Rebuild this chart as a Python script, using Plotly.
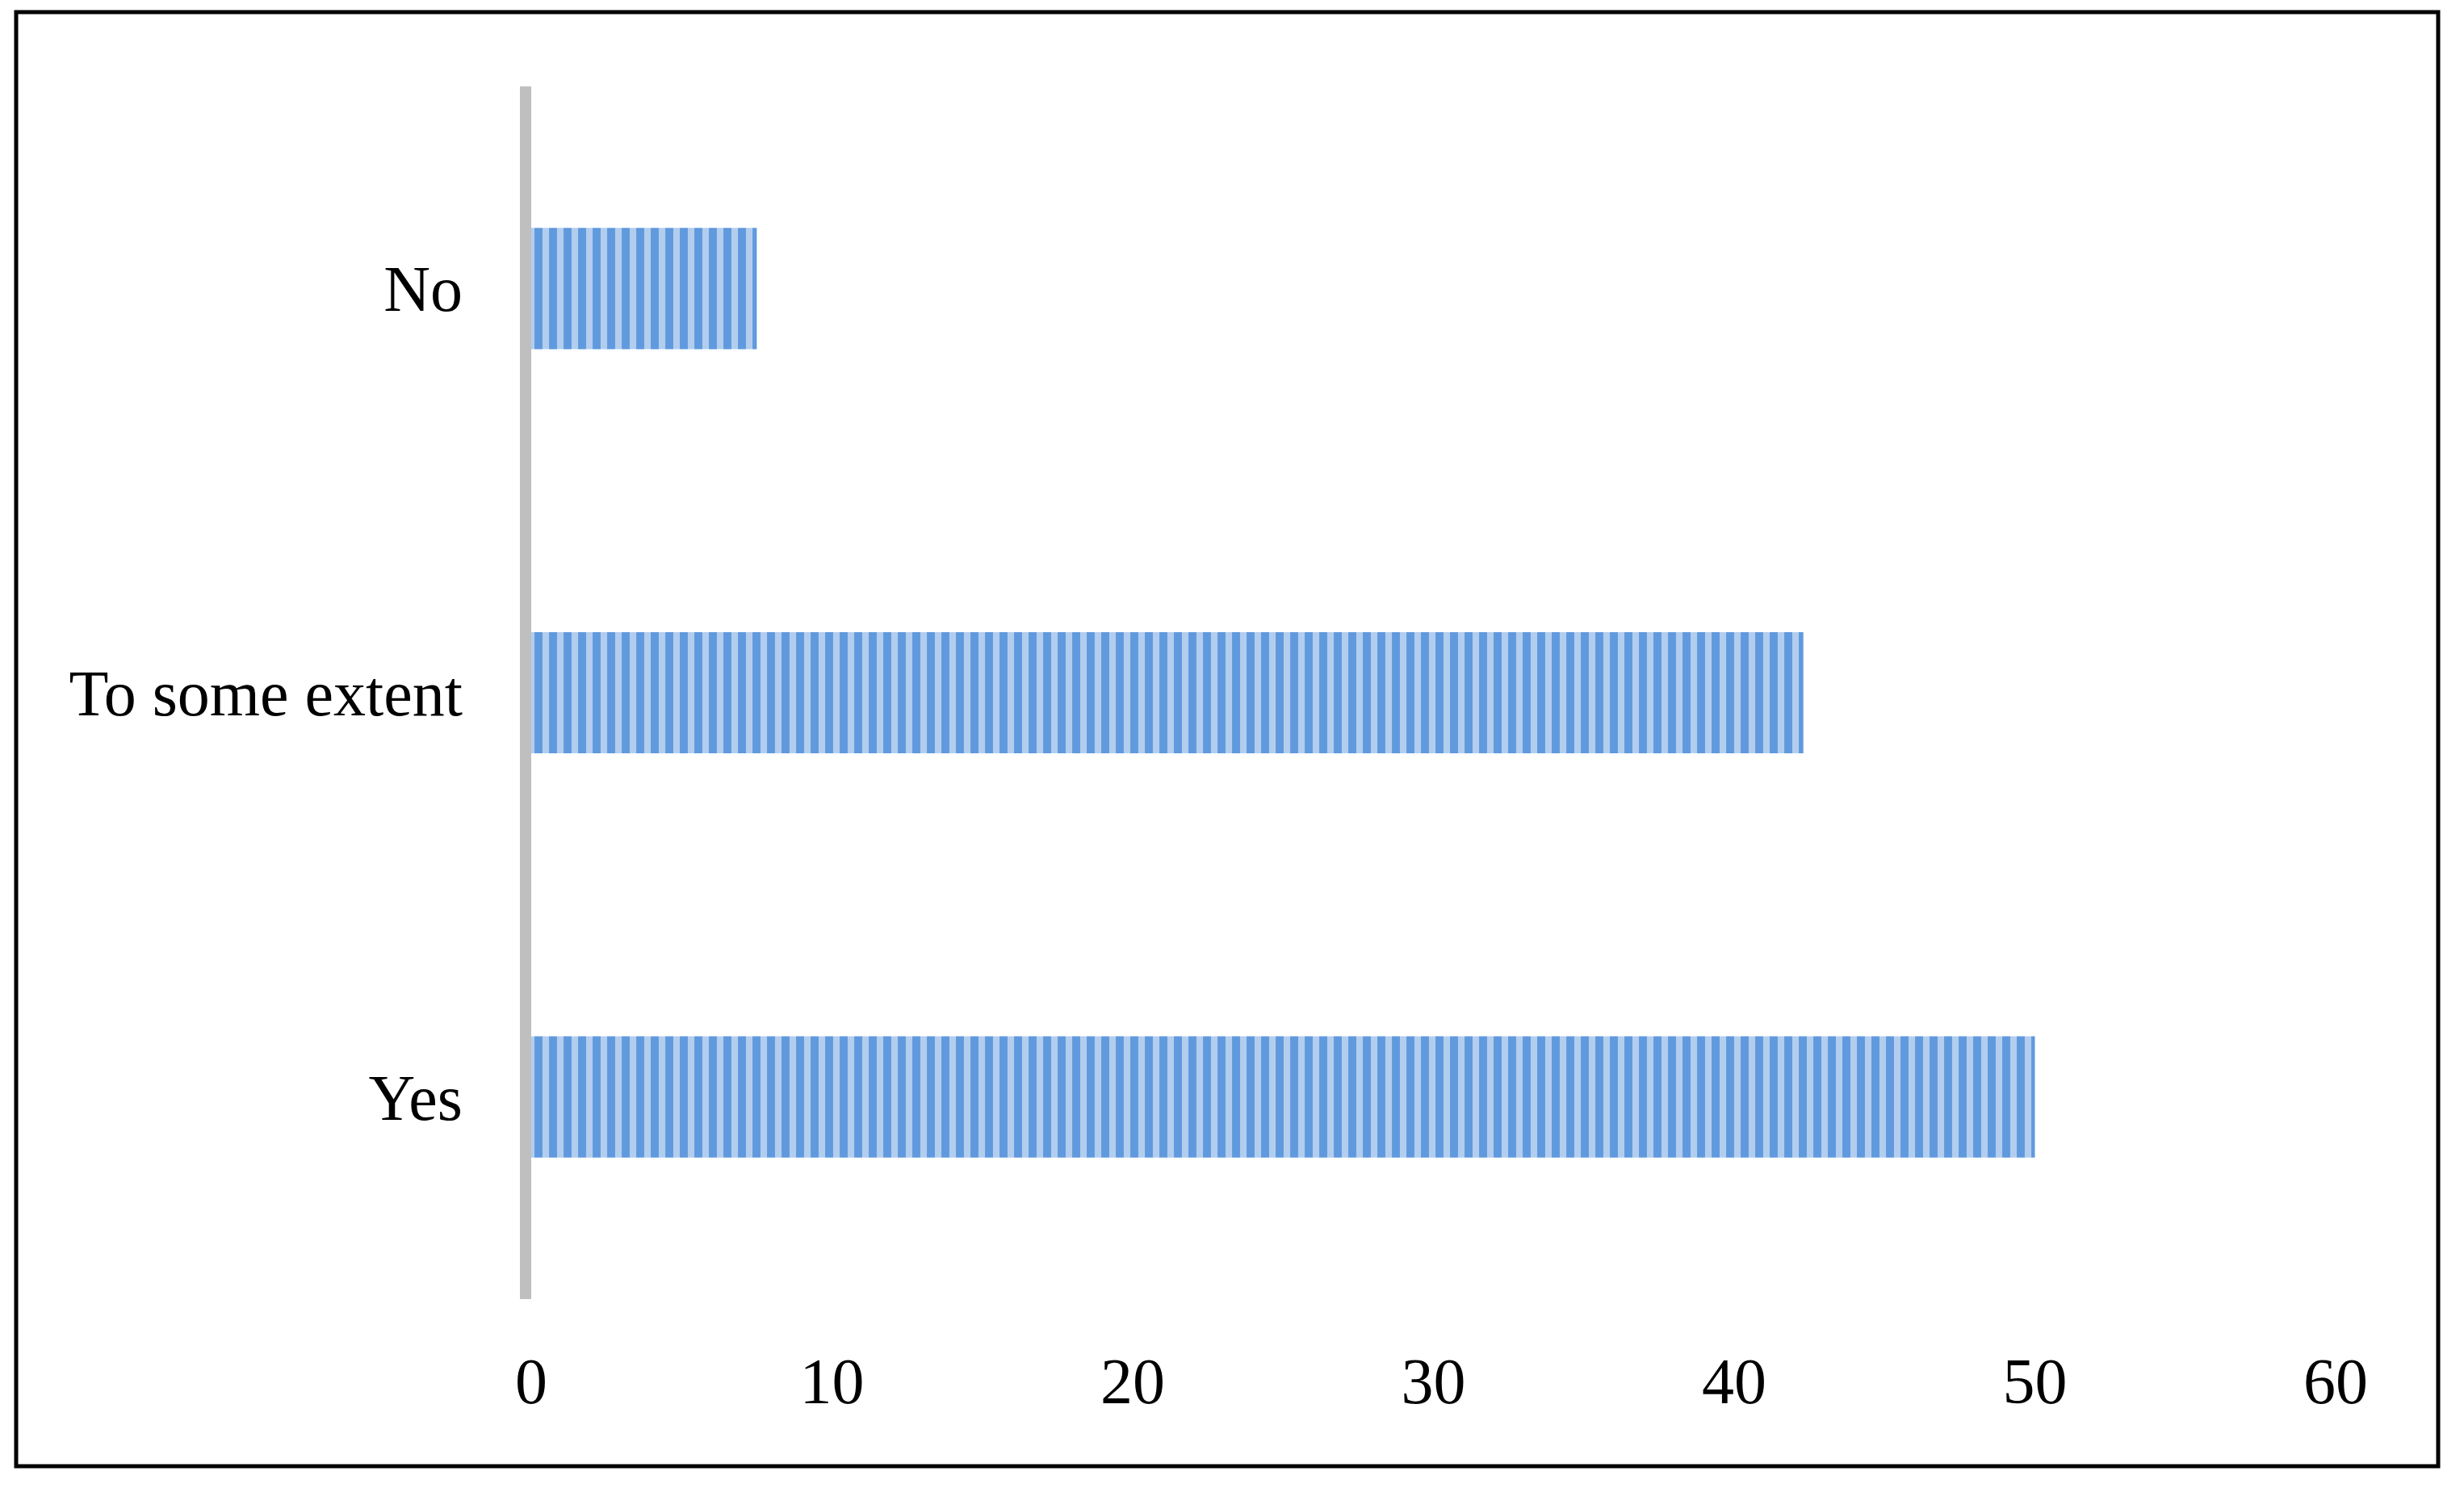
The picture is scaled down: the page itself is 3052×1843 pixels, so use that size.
import plotly.graph_objects as go

## Survey answers, bottom to top
answers = ["Yes", "To some extent", "No"]
percent = [50.0, 42.3, 7.5]

x_ticks = [0, 10, 20, 30, 40, 50, 60]

## page body has an 8px margin, so the figure is a bit smaller and shifted
W, H = 3052 - 16, 1843 - 16
ML, MR, MT, MB = 658 - 8, 159 - 8, 107 - 8, 234 - 8
pw = W - ML - MR
ph = H - MT - MB

fig = go.Figure(go.Bar(
    x=percent,
    y=answers,
    orientation="h",
    marker=dict(
        color="#b2cdee",
        line=dict(width=0),
        pattern=dict(shape="|", fgcolor="#0d66cc", bgcolor="#b2cdee",
                     size=18, solidity=0.55),
    ),
    hoverinfo="x+y",
))

## outer frame of the chart
fig.add_shape(type="rect", xref="paper", yref="paper",
              x0=(12 - ML) / pw, x1=(3012 - ML) / pw,
              y0=(H - MB - 1808) / ph, y1=(H - MB - 7) / ph,
              line=dict(color="black", width=5), fillcolor="rgba(0,0,0,0)")

fig.update_layout(
    width=W, height=H,
    margin=dict(l=ML, r=MR, t=MT, b=MB, pad=0),
    plot_bgcolor="white", paper_bgcolor="white",
    bargap=0.7,
    showlegend=False,
    font=dict(family="Liberation Serif", size=80, color="black"),
    xaxis=dict(range=[0, 60], tickvals=x_ticks, showgrid=False, zeroline=False,
               showline=False, ticks="", ticklabelstandoff=48),
    yaxis=dict(showgrid=False, zeroline=False, showline=True, linewidth=14,
               linecolor="#bfbfbf", ticks="", ticklabelstandoff=55),
)

fig.write_html("out.html")
